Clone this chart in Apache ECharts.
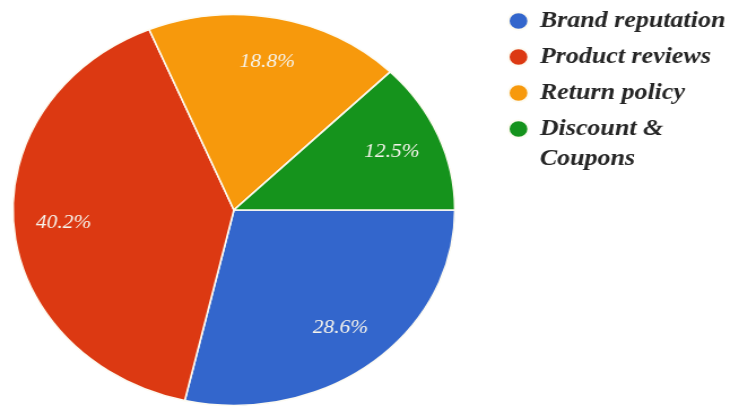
<!DOCTYPE html>
<html>
<head>
<meta charset="utf-8">
<script src="https://cdn.jsdelivr.net/npm/echarts@6/dist/echarts.min.js"></script>
<style>
  html, body { margin: 0; padding: 0; background: #ffffff; overflow: hidden; }
  #wrap { width: 731px; height: 409px; position: relative; overflow: hidden; }
  /* The pie is drawn as an ellipse: the chart is widened horizontally. */
  #chart { position: absolute; left: 0; top: 0; width: 647px; height: 409px;
           transform: scaleX(1.13); transform-origin: 0 0; }
</style>
</head>
<body>
<div id="wrap"><div id="chart"></div></div>
<script>
// Share of respondents by purchase factor (%)
const categories = ['Brand reputation', 'Product reviews', 'Return policy', 'Discount & Coupons'];
const shares = [28.6, 40.2, 18.8, 12.5];
const sliceColors = ['#3366cc', '#dc3912', '#f7990c', '#15931c'];

const seriesData = categories.map((name, i) => ({ name, value: shares[i] }));

const serifFamily = "'Liberation Serif', 'DejaVu Serif', serif";

const legendFont = {
  fontFamily: serifFamily,
  fontStyle: 'italic',
  fontWeight: 'bold',
  fontSize: 23,
  color: '#262626'
};

const chart = echarts.init(document.getElementById('chart'), null, { renderer: 'canvas' });

chart.setOption({
  animation: false,
  color: sliceColors,
  legend: {
    orient: 'vertical',
    left: 449,
    top: 6,
    padding: 0,
    itemGap: 6,
    itemWidth: 17.7,
    itemHeight: 20,
    icon: 'path://M0,10 A10,10 0 1,1 20,10 A10,10 0 1,1 0,10 Z',
    data: categories,
    formatter: name => {
      const i = name.indexOf('& ');
      if (i < 0) return name;
      return '{a|' + name.slice(0, i + 1) + '}\n{b|' + name.slice(i + 2) + '}';
    },
    textStyle: Object.assign({}, legendFont, {
      lineHeight: 30,
      padding: [0, 0, 0, 5],
      rich: {
        a: Object.assign({}, legendFont, { lineHeight: 30 }),
        b: Object.assign({}, legendFont, { lineHeight: 0, height: 30, verticalAlign: 'top' })
      }
    })
  },
  series: [
    {
      type: 'pie',
      center: [207, 210],
      radius: [0, 195.5],
      startAngle: 0,
      clockwise: true,
      avoidLabelOverlap: false,
      silent: true,
      label: { show: false },
      labelLine: { show: false },
      itemStyle: { borderColor: '#fdfbf2', borderWidth: 1.6 },
      data: seriesData
    },
    {
      // transparent ring that carries the percentage labels
      type: 'pie',
      center: [207, 210],
      radius: [101, 195.5],
      startAngle: 0,
      clockwise: true,
      avoidLabelOverlap: false,
      silent: true,
      itemStyle: { color: 'rgba(0,0,0,0)', borderWidth: 0 },
      label: {
        show: true,
        position: 'inside',
        formatter: '{c}%',
        fontFamily: serifFamily,
        fontStyle: 'italic',
        fontSize: 19,
        color: '#f6f4ec'
      },
      labelLine: { show: false },
      data: seriesData
    }
  ]
});
</script>
</body>
</html>
